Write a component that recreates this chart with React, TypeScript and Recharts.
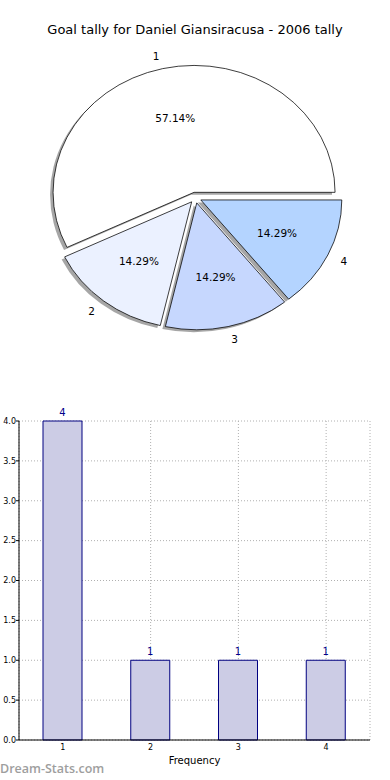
import { PieChart, Pie, Cell, Sector, BarChart, Bar, XAxis, YAxis, CartesianGrid, LabelList } from 'recharts';

// pie: goals per match tally
const sliceNames = ['1', '2', '3', '4'];
const sliceValues = [4, 1, 1, 1];
const sliceColors = ['#ffffff', '#ebf1ff', '#c6d7fe', '#b4d4ff'];

// bar: frequency per tally
const barCategories = ['1', '2', '3', '4'];
const barValues = [4, 1, 1, 1];
const yTicks = [0, 0.5, 1, 1.5, 2, 2.5, 3, 3.5, 4];

const RAD = Math.PI / 180;
const PIE_SY = 0.9; // pie is drawn squashed, like the original
const EXPLODE = 6;
const FONT = '"DejaVu Sans", sans-serif';

const pieData = sliceNames.map((name, i) => ({ name, value: sliceValues[i] }));
const barData = barCategories.map((cat, i) => ({ cat, value: barValues[i] }));

const offsetOf = (midAngle: number) => ({
  dx: EXPLODE * Math.cos(-midAngle * RAD),
  dy: EXPLODE * Math.sin(-midAngle * RAD),
});

const renderShadow = (props: any) => {
  const { cx, cy, innerRadius, outerRadius, startAngle, endAngle, midAngle } = props;
  const { dx, dy } = offsetOf(midAngle);
  return (
    <Sector
      cx={cx + dx - 3}
      cy={cy + dy + 2.8}
      innerRadius={innerRadius}
      outerRadius={outerRadius}
      startAngle={startAngle}
      endAngle={endAngle}
      fill="#4d4d4d"
      fillOpacity={0.5}
      stroke="none"
    />
  );
};

const renderSlice = (props: any) => {
  const { cx, cy, innerRadius, outerRadius, startAngle, endAngle, midAngle, fill } = props;
  const { dx, dy } = offsetOf(midAngle);
  return (
    <Sector
      cx={cx + dx}
      cy={cy + dy}
      innerRadius={innerRadius}
      outerRadius={outerRadius}
      startAngle={startAngle}
      endAngle={endAngle}
      fill={fill}
      stroke="#000"
      strokeWidth={0.8}
    />
  );
};

const renderLabel = (props: any) => {
  const { cx, cy, midAngle, outerRadius, percent, name } = props;
  const cos = Math.cos(-midAngle * RAD);
  const sin = Math.sin(-midAngle * RAD);
  const ox = cx + EXPLODE * cos;
  const oy = cy + EXPLODE * sin;
  const nx = ox + outerRadius * 1.1 * cos;
  const ny = oy + outerRadius * 1.1 * sin;
  const px = ox + outerRadius * 0.6 * cos;
  const py = oy + outerRadius * 0.6 * sin;
  return (
    <g>
      <text
        transform={`translate(${nx},${ny}) scale(1,${1 / PIE_SY})`}
        textAnchor={cos < 0 ? 'end' : 'start'}
        dominantBaseline="central"
        fontSize={10.5}
        fontFamily={FONT}
        fill="#000"
      >
        {name}
      </text>
      <text
        transform={`translate(${px},${py}) scale(1,${1 / PIE_SY})`}
        textAnchor="middle"
        dominantBaseline="central"
        fontSize={10.5}
        fontFamily={FONT}
        fill="#000"
      >
        {(percent * 100).toFixed(2)}%
      </text>
    </g>
  );
};

export default function App() {
  return (
    <div style={{ position: 'absolute', left: 0, top: 0, width: 390, height: 780, background: '#fff', fontFamily: FONT, overflow: 'hidden' }}>
      <div style={{ position: 'absolute', top: 22, left: 0, width: 390, textAlign: 'center', fontSize: 13, lineHeight: '16px' }}>
        Goal tally for Daniel Giansiracusa - 2006 tally
      </div>

      <div style={{ position: 'absolute', top: 0, left: 0, transform: `scaleY(${PIE_SY})`, transformOrigin: '0 0' }}>
        <PieChart width={390} height={420} margin={{ top: 0, right: 0, bottom: 0, left: 0 }}>
          <Pie
            data={pieData}
            dataKey="value"
            nameKey="name"
            cx={195.4}
            cy={197.6 / PIE_SY}
            outerRadius={141}
            startAngle={0}
            endAngle={360}
            shape={renderShadow}
            stroke="none"
            isAnimationActive={false}
          >
            {pieData.map((d, i) => (
              <Cell key={d.name} fill={sliceColors[i]} />
            ))}
          </Pie>
          <Pie
            data={pieData}
            dataKey="value"
            nameKey="name"
            cx={195.4}
            cy={197.6 / PIE_SY}
            outerRadius={141}
            startAngle={0}
            endAngle={360}
            shape={renderSlice}
            label={renderLabel}
            labelLine={false}
            isAnimationActive={false}
          >
            {pieData.map((d, i) => (
              <Cell key={d.name} fill={sliceColors[i]} />
            ))}
          </Pie>
        </PieChart>
      </div>

      <div style={{ position: 'absolute', top: 400, left: 0 }}>
        <BarChart width={390} height={380} data={barData} margin={{ top: 21, right: 20, bottom: 20, left: 0 }}>
          <CartesianGrid stroke="#b0b0b0" strokeDasharray="1 2" />
          <XAxis
            dataKey="cat"
            height={20}
            tick={{ fontSize: 8, fill: '#000', fontFamily: FONT }}
            tickLine={false}
            tickSize={3}
            tickMargin={1}
            axisLine={{ stroke: '#000' }}
            label={{ value: 'Frequency', position: 'insideBottom', offset: -4, fontSize: 10, fill: '#000', fontFamily: FONT }}
          />
          <XAxis xAxisId="top" dataKey="cat" orientation="top" height={0} tick={false} tickLine={false} axisLine={{ stroke: '#000' }} />
          <YAxis
            width={19}
            domain={[0, 4]}
            ticks={yTicks}
            interval={0}
            tickFormatter={(v: number) => v.toFixed(1)}
            tick={{ fontSize: 8, fill: '#000', fontFamily: FONT }}
            tickSize={3}
            tickMargin={0}
            tickLine={{ stroke: '#000' }}
            axisLine={{ stroke: '#000' }}
          />
          <YAxis yAxisId="right" orientation="right" width={0} domain={[0, 4]} ticks={yTicks} tick={false} tickLine={false} axisLine={{ stroke: '#000' }} />
          <Bar dataKey="value" fill="#ccccE5" stroke="#000080" strokeWidth={1} barSize={39} isAnimationActive={false}>
            <LabelList dataKey="value" position="top" fill="#00008b" fontSize={10} fontFamily={FONT} />
          </Bar>
        </BarChart>
      </div>

      <div style={{ position: 'absolute', left: 0, top: 760, fontFamily: '"Open Sans", sans-serif', fontWeight: 600, fontSize: 12.5, color: '#9e9e9e', lineHeight: '18px' }}>
        Dream-Stats.com
      </div>
    </div>
  );
}
